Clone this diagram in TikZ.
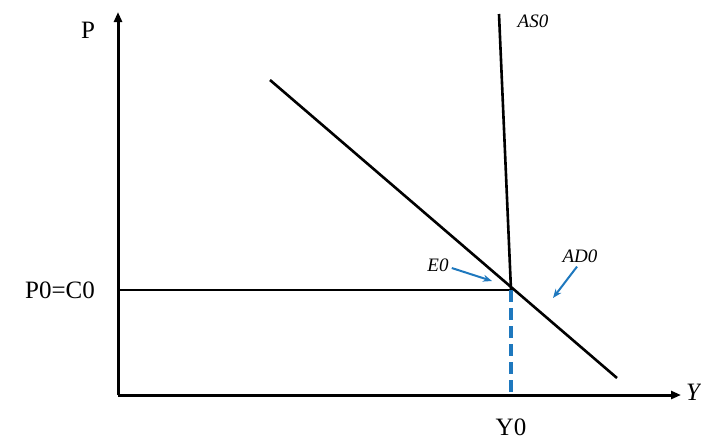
\documentclass[tikz,border=0pt]{standalone}
\usepackage{fontspec}
\setmainfont{Liberation Serif}
\usetikzlibrary{arrows.meta}
\begin{document}
\begin{tikzpicture}[x=1pt,y=-1pt,
  axis/.style={line width=3pt,-{Triangle[length=10pt,width=8pt]}},
  curve/.style={line width=2.6pt},
  guide/.style={line width=2.8pt},
  dashline/.style={line width=4.5pt,draw={rgb,255:red,30;green,120;blue,190},dash pattern=on 12pt off 6pt},
  pointer/.style={line width=2pt,draw={rgb,255:red,30;green,120;blue,190},-{Stealth[length=9pt,width=7pt]}},
  biglabel/.style={font=\fontsize{25}{25}\selectfont,inner sep=0pt},
  smalllabel/.style={font=\fontsize{19}{19}\selectfont\itshape,inner sep=0pt}]
\useasboundingbox (0,0) rectangle (701,440);
\coordinate (O) at (118,395);
\coordinate (ytop) at (118,12);
\coordinate (xend) at (681,395);
\coordinate (p0) at (118,290);
\coordinate (E) at (511,290);
\coordinate (y0) at (511,395);
\coordinate (astop) at (499,14);
\coordinate (adtop) at (270,80);
\coordinate (adbot) at (617,378);
\draw[axis] (O) -- (ytop);
\draw[axis] (O) -- (xend);
\draw[guide] (p0) -- (E);
\draw[dashline] (E) -- (y0);
\draw[curve] (astop) -- (E);
\draw[curve] (adtop) -- (adbot);
\node[biglabel] (P) at (88,30) {P};
\node[biglabel] (P0) at (60,290) {P0=C0};
\node[biglabel] (Y0) at (511,427) {Y0};
\node[biglabel,font=\fontsize{25}{25}\selectfont\itshape,anchor=west] (Y) at (686,392) {Y};
\node[smalllabel] (AS) at (533,21) {AS0};
\node[smalllabel] (E0) at (438,265) {E0};
\node[smalllabel] (AD) at (580,256) {AD0};
\coordinate (e0tip) at (492,281);
\coordinate (adtip) at (553,298);
\draw[pointer] (E0.east) ++(3,3) -- (e0tip);
\draw[pointer] (AD.south) ++(-3,4) -- (adtip);
\end{tikzpicture}
\end{document}
